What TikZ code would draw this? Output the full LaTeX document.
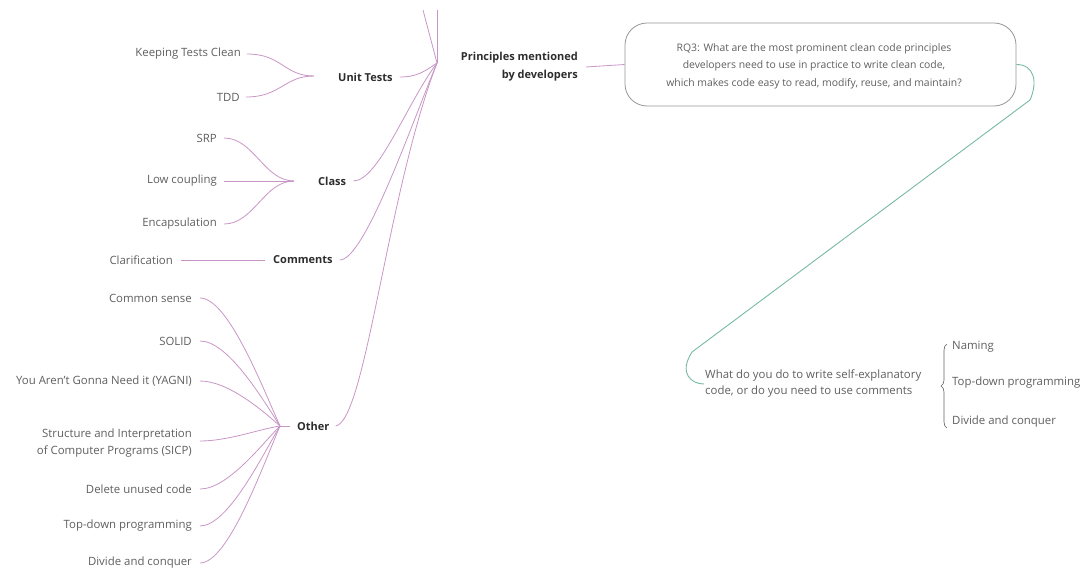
\documentclass[tikz,border=0pt]{standalone}
\usepackage{fontspec}
\setmainfont{Open Sans}
\usetikzlibrary{decorations.pathreplacing}
\definecolor{pinkl}{RGB}{200,150,198}
\definecolor{greenl}{RGB}{120,185,165}
\definecolor{boxgray}{RGB}{150,150,150}
\definecolor{leafgray}{RGB}{95,95,95}
\definecolor{boldgray}{RGB}{45,45,45}
\tikzset{
  pl/.style={draw=pinkl, line width=0.8pt},
  gl/.style={draw=greenl, line width=0.9pt},
  leaf/.style={font=\fontsize{11.4}{16.5}\selectfont, text=leafgray, inner sep=1pt},
  rleaf/.style={font=\fontsize{11.4}{16}\selectfont, text=leafgray, inner sep=1pt},
  branch/.style={font=\bfseries\fontsize{11}{13}\selectfont, text=boldgray, inner sep=1pt},
}
\begin{document}
\begin{tikzpicture}[x=1pt,y=-1pt]
\useasboundingbox (0,0) rectangle (1085,572);
% hub
\coordinate (hub) at (437,63);
\coordinate (top1) at (423,10);
\coordinate (top2) at (437,10);
\draw[pl] (hub) -- (top1);
\draw[pl] (hub) -- (top2);
% Principles
\node[font=\bfseries\fontsize{11}{18}\selectfont, text=boldgray, inner sep=1pt, anchor=east, align=right] (pr) at (579,67) {Principles mentioned\\by developers};
\node[draw=boxgray, line width=0.8pt, rounded corners=22pt, minimum width=391pt, minimum height=83pt] (box) at (820.5,64.5) {};
\node[align=center, font=\fontsize{10.4}{17.5}\selectfont, text=leafgray, inner sep=0pt] (boxt) at (814,66)
  {RQ3: What are the most prominent clean code principles\\developers need to use in practice to write clean code,\\which makes code easy to read, modify, reuse, and maintain?};
\draw[pl] (pr.east) ++(7,0) coordinate (prs) -- (box.west);
% Unit tests
\node[branch, anchor=west] (ut) at (337,77) {Unit Tests};
\coordinate (utj) at (314,76);
\node[leaf, anchor=east] (kt) at (242,54) {Keeping Tests Clean};
\node[leaf, anchor=east] (tdd) at (241,97) {TDD};
\draw[pl] (kt.east) ++(5,0) .. controls +(35,0) and +(-30,0) .. (utj);
\draw[pl] (tdd.east) ++(5,0) .. controls +(35,0) and +(-30,0) .. (utj);
\draw[pl] (ut.east) ++(6,0) .. controls +(18,0) and +(-12,8) .. (hub);
% Class
\node[branch, anchor=west] (cl) at (317,181) {Class};
\coordinate (clj) at (294,181);
\node[leaf, anchor=east] (srp) at (218,138) {SRP};
\node[leaf, anchor=east] (lc) at (218,181) {Low coupling};
\node[leaf, anchor=east] (enc) at (218,224) {Encapsulation};
\draw[pl] (srp.east) ++(6,0) .. controls +(30,0) and +(-30,0) .. (clj);
\draw[pl] (lc.east) ++(6,0) -- (clj);
\draw[pl] (enc.east) ++(6,0) .. controls +(30,0) and +(-30,0) .. (clj);
\draw[pl] (cl.east) ++(6,0) .. controls +(25,0) and +(-30,40) .. (hub);
% Comments
\node[branch, anchor=west] (cm) at (272,260) {Comments};
\node[leaf, anchor=east] (clar) at (174,260) {Clarification};
\draw[pl] (clar.east) ++(7,0) -- ([xshift=-7pt]cm.west);
\draw[pl] (cm.east) ++(6,0) .. controls +(25,0) and +(-25,60) .. (hub);
% Other
\node[branch, anchor=west] (ot) at (296,426) {Other};
\coordinate (otj) at (280,426);
\node[leaf, anchor=east] (cs) at (193,298) {Common sense};
\node[leaf, anchor=east] (solid) at (193,341) {SOLID};
\node[leaf, anchor=east] (yagni) at (193,381) {You Aren't Gonna Need it (YAGNI)};
\node[leaf, anchor=east, align=right] (sicp) at (193,443) {Structure and Interpretation\\of Computer Programs (SICP)};
\node[leaf, anchor=east] (del) at (193,489) {Delete unused code};
\node[leaf, anchor=east] (td) at (193,526) {Top-down programming};
\node[leaf, anchor=east] (dc) at (193,563) {Divide and conquer};
\draw[pl] (cs.east) ++(7,0) .. controls +(28,0) and +(-18,-40) .. (otj);
\draw[pl] (solid.east) ++(7,0) .. controls +(28,0) and +(-18,-28) .. (otj);
\draw[pl] (yagni.east) ++(7,0) .. controls +(28,0) and +(-18,-16) .. (otj);
\draw[pl] ([yshift=2pt]sicp.east) ++(7,0) .. controls +(28,0) and +(-20,3) .. (otj);
\draw[pl] (del.east) ++(7,0) .. controls +(28,0) and +(-18,18) .. (otj);
\draw[pl] (td.east) ++(7,0) .. controls +(28,0) and +(-18,30) .. (otj);
\draw[pl] (dc.east) ++(7,0) .. controls +(28,0) and +(-18,42) .. (otj);
\draw[pl] (otj) -- ++(10,0);
\draw[pl] (ot.east) ++(5,0) .. controls +(30,-5) and +(-50,130) .. (hub);
% Right side
\node[rleaf, anchor=west, align=left] (q) at (704,384) {What do you do to write self-explanatory\\code, or do you need to use comments};
\draw[gl] (box.east) .. controls +(18,0) and +(8,-18) .. (1030,100) coordinate (g1)
  -- (692,352) coordinate (g2) .. controls +(-14,22) and +(-12,0) .. (q.west);
\draw[draw=leafgray, line width=0.6pt, decorate, decoration={brace, amplitude=6pt}] (947,428) -- (947,344);
\node[rleaf, anchor=west] (nm) at (951,347) {Naming};
\node[rleaf, anchor=west] (tdp) at (951,383) {Top-down programming};
\node[rleaf, anchor=west] (dac) at (951,422) {Divide and conquer};
\end{tikzpicture}
\end{document}
